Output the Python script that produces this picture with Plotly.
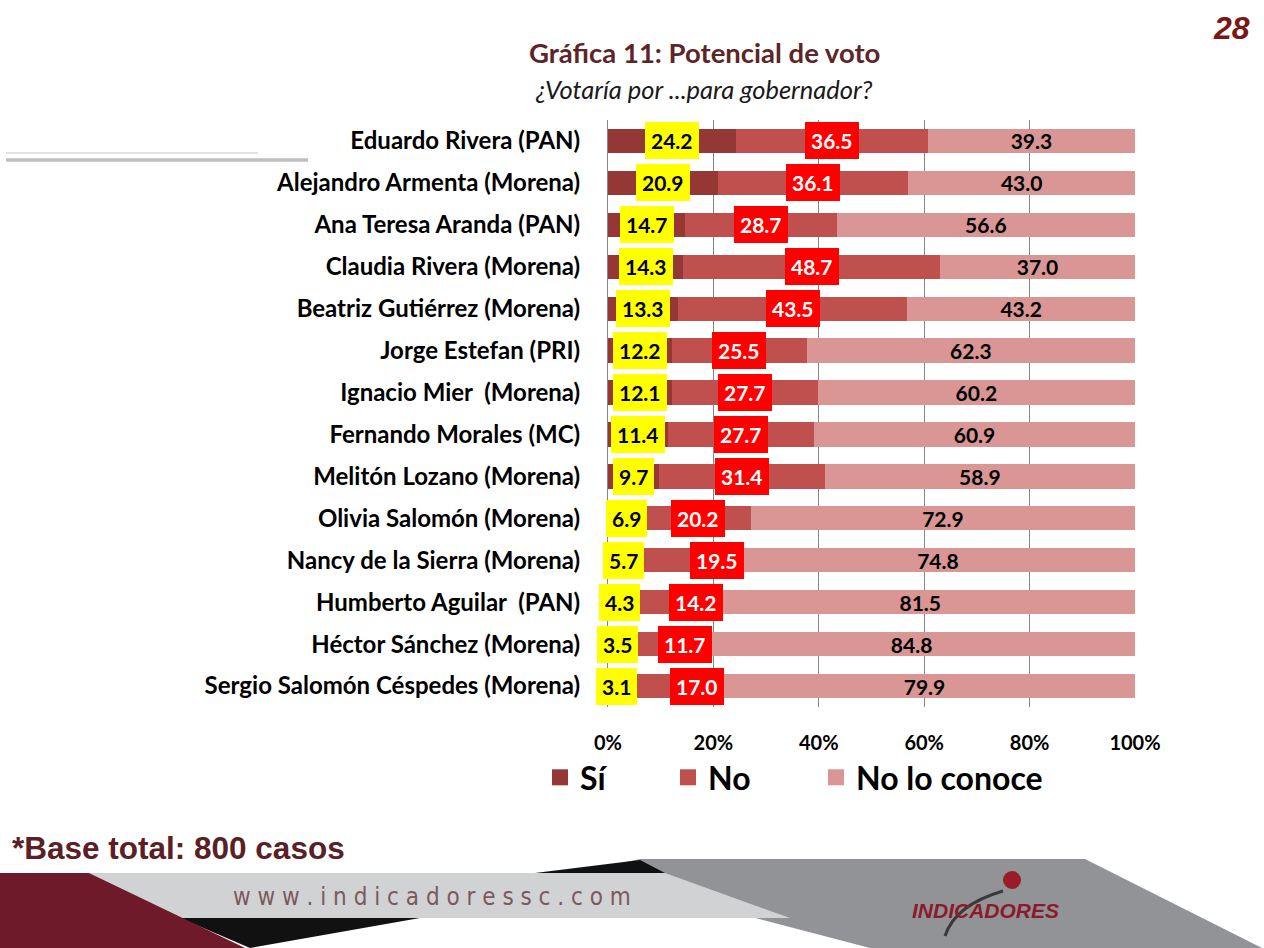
import plotly.graph_objects as go

# ---------------- data ----------------
candidates = [
    "Eduardo Rivera (PAN)",
    "Alejandro Armenta (Morena)",
    "Ana Teresa Aranda (PAN)",
    "Claudia Rivera (Morena)",
    "Beatriz Gutiérrez (Morena)",
    "Jorge Estefan (PRI)",
    "Ignacio Mier  (Morena)",
    "Fernando Morales (MC)",
    "Melitón Lozano (Morena)",
    "Olivia Salomón (Morena)",
    "Nancy de la Sierra (Morena)",
    "Humberto Aguilar  (PAN)",
    "Héctor Sánchez (Morena)",
    "Sergio Salomón Céspedes (Morena)",
]
si = [24.2, 20.9, 14.7, 14.3, 13.3, 12.2, 12.1, 11.4, 9.7, 6.9, 5.7, 4.3, 3.5, 3.1]
no = [36.5, 36.1, 28.7, 48.7, 43.5, 25.5, 27.7, 27.7, 31.4, 20.2, 19.5, 14.2, 11.7, 17.0]
no_conoce = [39.3, 43.0, 56.6, 37.0, 43.2, 62.3, 60.2, 60.9, 58.9, 72.9, 74.8, 81.5, 84.8, 79.9]
series_names = ["Sí", "No", "No lo conoce"]
x_ticks = [0, 20, 40, 60, 80, 100]
x_tick_labels = ["0%", "20%", "40%", "60%", "80%", "100%"]

# ---------------- styles ----------------
W, H = 1264, 948
FONT = "Lato"
colors = ["#953735", "#C0504D", "#D99694"]
legend_ids = ["legend", "legend2", "legend3"]
legend_left_px = [540, 668, 816]


def px(x):
    return x / W


def py(y):
    return 1 - y / H


fig = go.Figure()
for name, vals, col in zip(series_names, [si, no, no_conoce], colors):
    is_last = name == series_names[-1]
    fig.add_trace(go.Bar(
        name=name, y=candidates, x=vals, orientation="h",
        marker=dict(color=col, line=dict(width=0)),
        text=[f"{v:.1f}" for v in vals] if is_last else None,
        textposition="inside" if is_last else "none",
        insidetextanchor="middle",
        textangle=0,
        textfont=dict(family=FONT, size=21, color="black", weight="bold"),
        hoverinfo="skip", showlegend=False,
    ))
# legend entries (square swatches), one legend box per series
for name, col, lid in zip(series_names, colors, legend_ids):
    fig.add_trace(go.Scatter(
        x=[None], y=[None], mode="markers", name=name, legend=lid,
        marker=dict(symbol="square", size=17, color=col),
        hoverinfo="skip",
    ))

annotations = []
# boxed labels for Sí and No
for cat, s, n in zip(candidates, si, no):
    annotations.append(dict(
        x=s / 2, y=cat, xref="x", yref="y", text=f"{s:.1f}", showarrow=False,
        bgcolor="#FFFF00", borderpad=6, borderwidth=0,
        font=dict(family=FONT, size=21, color="black", weight="bold"),
    ))
    shift = 5.3 if s < 6 else 0
    annotations.append(dict(
        x=s + n / 2 + shift, y=cat, xref="x", yref="y", text=f"{n:.1f}", showarrow=False,
        bgcolor="#FF0000", borderpad=6, borderwidth=0,
        font=dict(family=FONT, size=21, color="white", weight="bold"),
    ))

# titles and decorations
annotations += [
    dict(x=px(704), y=py(52), xref="paper", yref="paper", showarrow=False,
         text="Gráfica 11: Potencial de voto", xanchor="center", yanchor="middle",
         font=dict(family=FONT, size=27.5, color="#5E2529", weight="bold")),
    dict(x=px(704), y=py(89), xref="paper", yref="paper", showarrow=False,
         text="<i>¿Votaría por ...para gobernador?</i>", xanchor="center", yanchor="middle",
         font=dict(family=FONT, size=25.5, color="#1a1a1a")),
    dict(x=px(1231), y=py(28), xref="paper", yref="paper", showarrow=False,
         text="<i>28</i>", xanchor="center", yanchor="middle",
         font=dict(family="Liberation Sans", size=32, color="#7A1717", weight="bold")),
    dict(x=px(10), y=py(848), xref="paper", yref="paper", showarrow=False,
         text="*Base total: 800 casos", xanchor="left", yanchor="middle",
         font=dict(family="Liberation Sans", size=31.5, color="#5A2025", weight="bold")),
    dict(x=px(432), y=py(897), xref="paper", yref="paper", showarrow=False,
         text="w w w . i n d i c a d o r e s s c . c o m", xanchor="center", yanchor="middle",
         font=dict(family="Liberation Sans Narrow, DejaVu Sans Condensed", size=24, color="#7A5A5E")),
    dict(x=px(985), y=py(910), xref="paper", yref="paper", showarrow=False,
         text="<i>INDICADORES</i>", xanchor="center", yanchor="middle",
         font=dict(family="Liberation Sans", size=21, color="#8B1A2A", weight="bold")),
]

shapes = [
    # top-left lines
    dict(type="line", xref="paper", yref="paper", x0=px(6), x1=px(258), y0=py(153), y1=py(153),
         line=dict(color="#d9d9d9", width=1.5)),
    dict(type="line", xref="paper", yref="paper", x0=px(6), x1=px(308), y0=py(160), y1=py(160),
         line=dict(color="#bfbfbf", width=3.5)),
]


def poly(points, fill):
    path = "M " + " L ".join(f"{px(x):.5f},{py(y):.5f}" for x, y in points) + " Z"
    return dict(type="path", xref="paper", yref="paper", path=path,
                fillcolor=fill, line=dict(width=0), layer="below")


shapes += [
    poly([(580, 872), (640, 859), (1085, 859), (1262, 948), (870, 948)], "#929397"),
    poly([(535, 873), (640, 860), (665, 873)], "#111111"),
    poly([(89, 873), (665, 873), (790, 918), (180, 918)], "#D1D2D4"),
    poly([(180, 918), (420, 918), (250, 948)], "#111111"),
    poly([(0, 873), (89, 873), (245, 948), (0, 948)], "#6E1A2B"),
    dict(type="path", xref="paper", yref="paper",
         path=f"M {px(1003):.5f},{py(891):.5f} Q {px(955):.5f},{py(905):.5f} {px(945):.5f},{py(936):.5f}",
         line=dict(color="#3a3a3a", width=3)),
    dict(type="circle", xref="paper", yref="paper", x0=px(1003), x1=px(1021), y0=py(871), y1=py(889),
         fillcolor="#9B1B2A", line=dict(width=0)),
]

legend_common = dict(orientation="h", xanchor="left", yanchor="top",
                     font=dict(family=FONT, size=32, color="black", weight="bold"),
                     itemclick=False, itemdoubleclick=False, bgcolor="rgba(0,0,0,0)")
legends = {lid: dict(legend_common, x=px(lx), y=py(750)) for lid, lx in zip(legend_ids, legend_left_px)}

fig.update_layout(
    width=W, height=H,
    margin=dict(l=0, r=0, t=0, b=0, autoexpand=False),
    paper_bgcolor="white", plot_bgcolor="white",
    barmode="stack", bargap=0.42,
    uniformtext=dict(mode="show", minsize=21),
    showlegend=True,
    xaxis=dict(domain=[px(608), px(1135)], range=[0, 100], tickvals=x_ticks, ticktext=x_tick_labels,
               showgrid=True, gridcolor="#868686", gridwidth=1, zeroline=False, showline=False,
               ticks="", ticklabelstandoff=22, fixedrange=True, automargin=False,
               tickfont=dict(family=FONT, size=20, color="black", weight="bold")),
    yaxis=dict(domain=[py(707), py(120)], categoryorder="array", categoryarray=candidates,
               autorange="reversed", showgrid=False, zeroline=False, automargin=False,
               showline=True, linecolor="#868686", linewidth=1, ticks="", ticklabelstandoff=22,
               tickfont=dict(family=FONT, size=24, color="black", weight="bold"), fixedrange=True),
    annotations=annotations,
    shapes=shapes,
    **legends,
)

fig.write_html("out.html")
